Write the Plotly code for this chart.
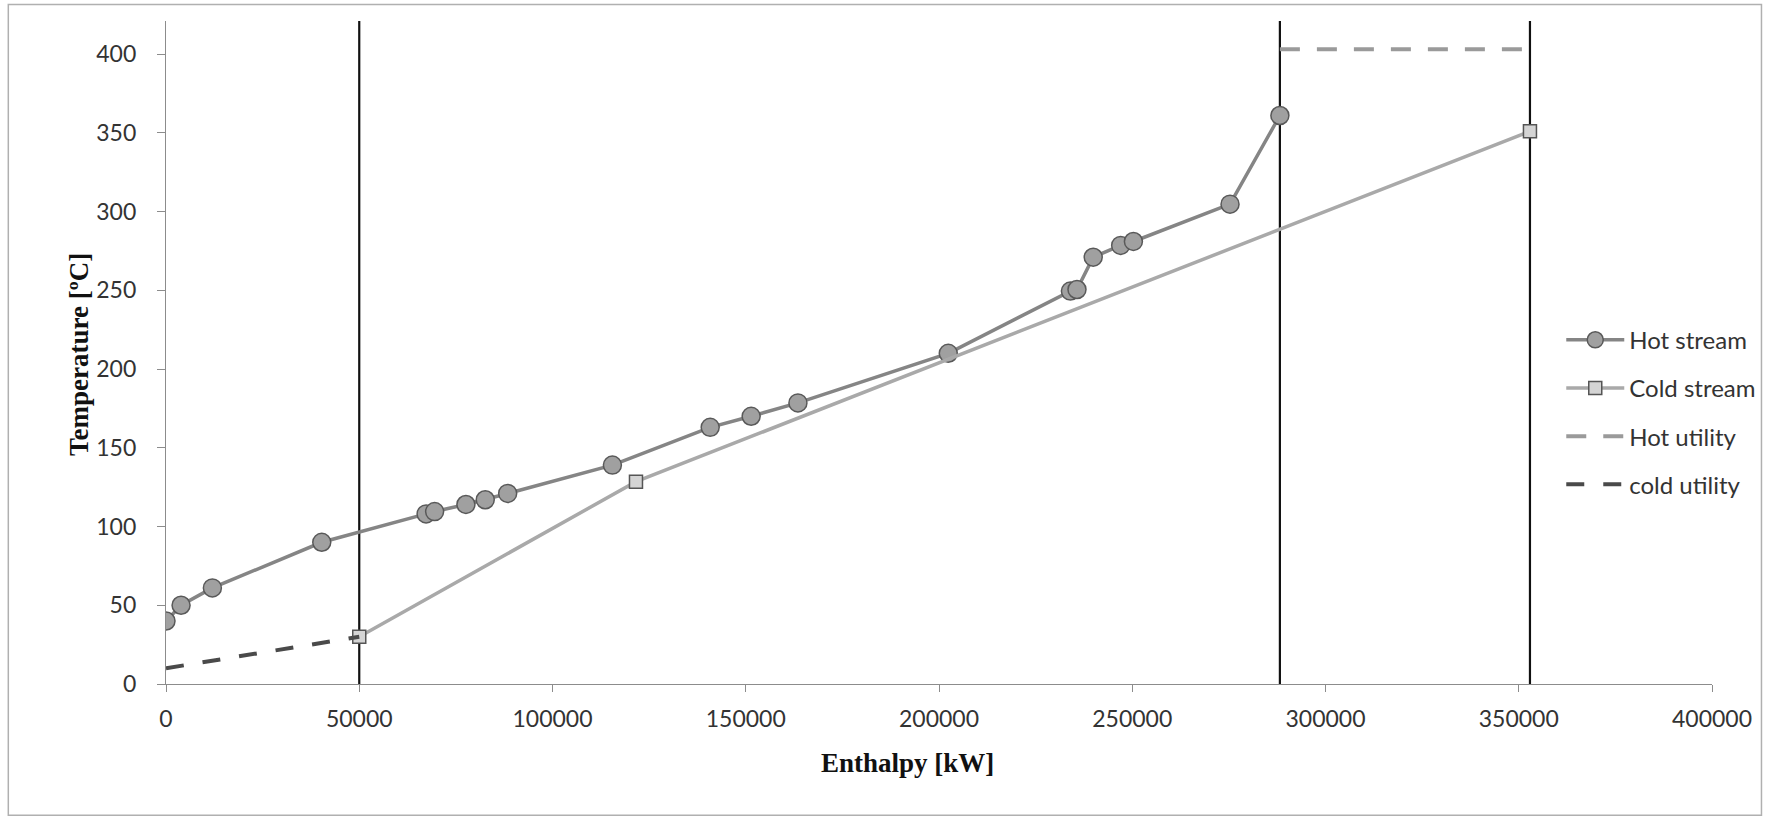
import plotly.graph_objects as go

# Hot composite curve
hot_h = [0, 3900, 12000, 40300, 67300, 69500, 77600, 82600, 88400, 115500,
         140800, 151400, 163500, 202400, 234000, 235700, 239900, 247000, 250300,
         275300, 288200]
hot_t = [40, 50, 61, 90, 108, 109.5, 114, 117, 121, 139,
         163, 170, 178.5, 210, 249.5, 250.5, 271, 278.5, 281,
         304.7, 361]

# Cold composite curve
cold_h = [50000, 121600, 352900]
cold_t = [30, 128.5, 351]

# Utilities
hot_util_h = [288200, 352900]
hot_util_t = [403, 403]
cold_util_h = [0, 50000]
cold_util_t = [10, 30]

# Vertical marker lines (enthalpy positions)
vlines_h = [50000, 288200, 352900]
vline_t = [0, 421]

x_ticks = [0, 50000, 100000, 150000, 200000, 250000, 300000, 350000, 400000]
y_ticks = [0, 50, 100, 150, 200, 250, 300, 350, 400]

x_title = "Enthalpy [kW]"
y_title = "Temperature [ºC]"

fig = go.Figure()

for h in vlines_h:
    fig.add_trace(go.Scatter(x=[h, h], y=vline_t, mode="lines",
                             line=dict(color="#111111", width=2.2),
                             showlegend=False, hoverinfo="skip"))

fig.add_trace(go.Scatter(
    x=hot_h, y=hot_t, mode="lines+markers", name="Hot stream", legendgroup="a",
    line=dict(color="#858585", width=3.5),
    marker=dict(symbol="circle", size=18, color="#a0a0a0",
                line=dict(color="#595959", width=1.5))))

fig.add_trace(go.Scatter(
    x=cold_h, y=cold_t, mode="lines+markers", name="Cold stream", legendgroup="b",
    line=dict(color="#a9a9a9", width=3.5),
    marker=dict(symbol="square", size=13, color="#d4d4d4",
                line=dict(color="#555555", width=1.5))))

fig.add_trace(go.Scatter(
    x=hot_util_h, y=hot_util_t, mode="lines", name="Hot utility", legendgroup="c",
    line=dict(color="#9a9a9a", width=4, dash="20px,17px")))

fig.add_trace(go.Scatter(
    x=cold_util_h, y=cold_util_t, mode="lines", name="cold utility", legendgroup="d",
    line=dict(color="#4a4a4a", width=4, dash="18px,19px")))

tickfont = dict(family="Lato, 'Open Sans', sans-serif", size=23, color="#333333")
titlefont = dict(family="'Liberation Serif', 'DejaVu Serif', serif", size=27, color="#111111")

fig.update_layout(
    width=1773, height=821,
    margin=dict(l=166, r=61, t=21, b=137),
    paper_bgcolor="white", plot_bgcolor="white",
    showlegend=True,
    legend=dict(x=0.9025, y=0.41, xanchor="left", yanchor="middle",
                bgcolor="rgba(255,255,255,0)", itemwidth=58,
                font=dict(family="Lato, 'Open Sans', sans-serif", size=24, color="#333333"),
                tracegroupgap=14),
    xaxis=dict(range=[0, 400000], tickvals=x_ticks,
               ticktext=[str(v) for v in x_ticks],
               showgrid=False, zeroline=False, showline=True,
               linecolor="#8c8c8c", linewidth=1.3,
               ticks="outside", ticklen=7, tickcolor="#8c8c8c",
               tickfont=tickfont, ticklabelstandoff=7),
    yaxis=dict(range=[0, 421], tickvals=y_ticks,
               showgrid=False, zeroline=False, showline=True,
               linecolor="#8c8c8c", linewidth=1.3,
               ticks="outside", ticklen=8, tickcolor="#8c8c8c",
               tickfont=tickfont, ticklabelstandoff=16),
    annotations=[
        dict(text="<b>" + x_title + "</b>", xref="paper", yref="paper",
             x=(907 - 166) / 1546, y=(684 - 763) / 663, xanchor="center", yanchor="middle",
             showarrow=False, font=titlefont),
        dict(text="<b>" + y_title + "</b>", xref="paper", yref="paper",
             x=(79 - 166) / 1546, y=(684 - 355) / 663, xanchor="center", yanchor="middle",
             textangle=-90, showarrow=False, font=titlefont),
    ],
    shapes=[dict(type="rect", xref="paper", yref="paper",
                 x0=-0.102, x1=1.032, y0=-0.198, y1=1.025,
                 line=dict(color="#b0b0b0", width=1.5), fillcolor="rgba(0,0,0,0)",
                 layer="below")],
)

fig.write_html("out.html")
